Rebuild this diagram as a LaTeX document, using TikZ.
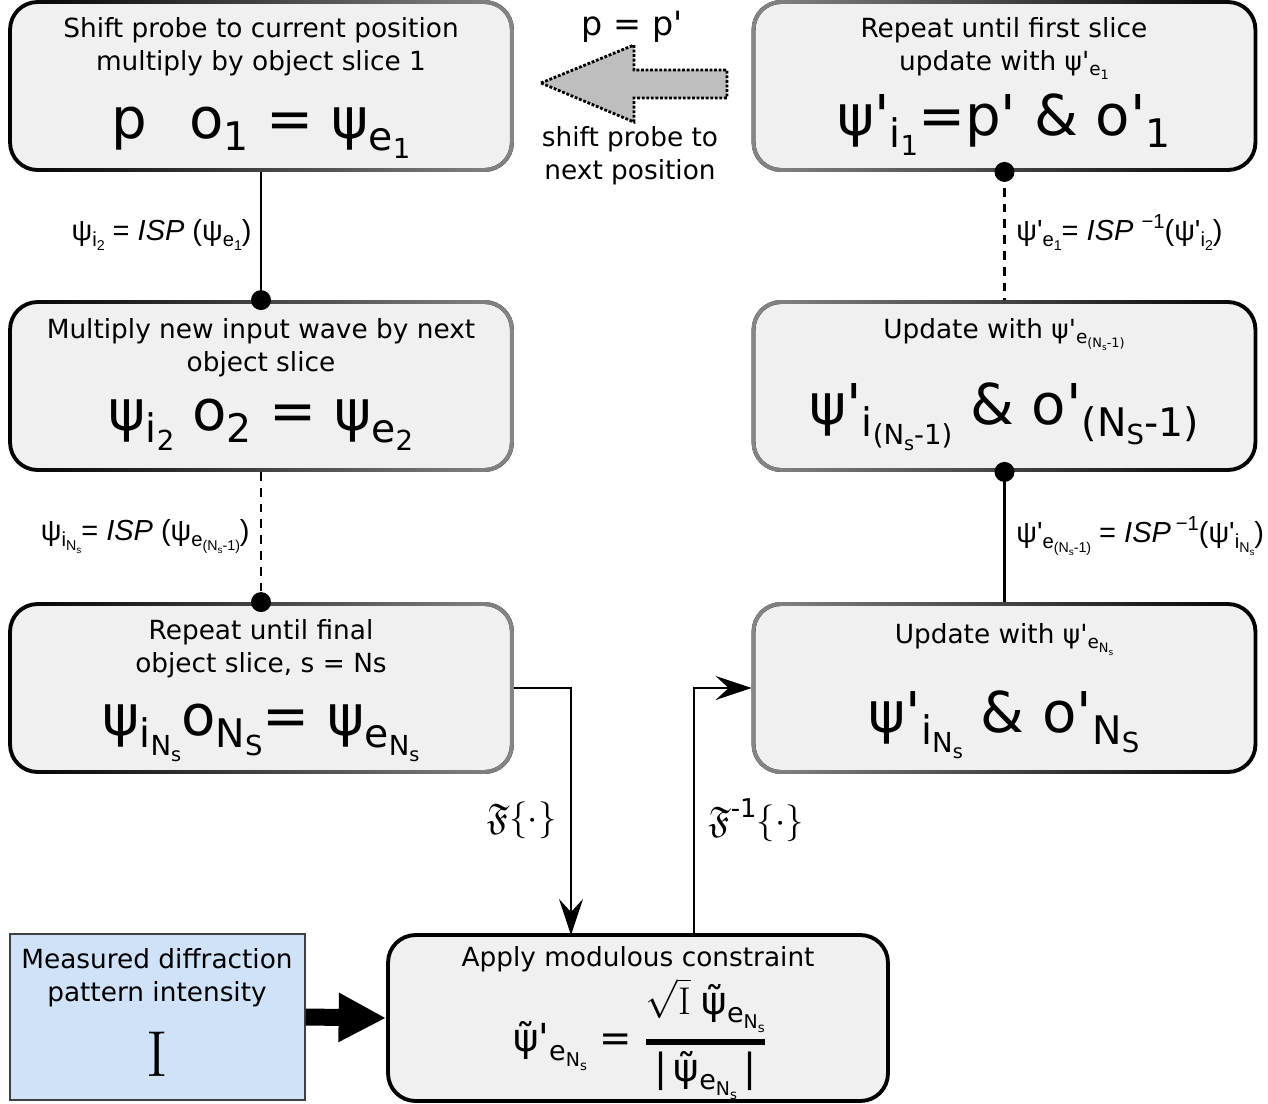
\RequirePackage{fix-cm}
\documentclass[tikz,border=0pt]{standalone}
\usepackage{amssymb}
\usepackage[no-math]{fontspec}
\setmainfont{DejaVu Sans}[Ligatures=TeXOff]
\newfontfamily\lblfont{Liberation Sans}[Ligatures=TeXOff]
\usetikzlibrary{arrows.meta, fadings}

\definecolor{boxgray}{RGB}{240,240,240}
\definecolor{midgray}{RGB}{135,135,135}
\definecolor{measblue}{RGB}{207,226,248}
\definecolor{arrowgray}{RGB}{190,190,190}

\tikzfading[name=tolight, left color=transparent!100, right color=transparent!0]
\tikzfading[name=todark, left color=transparent!0, right color=transparent!100]

\makeatletter
\newcommand\sbs[1]{\raisebox{-0.4ex}{\fontsize{\strip@pt\dimexpr 0.7\dimexpr\f@size pt\relax\relax}{0pt}\selectfont #1}}
\newcommand\sps[1]{\raisebox{0.75ex}{\fontsize{\strip@pt\dimexpr 0.7\dimexpr\f@size pt\relax\relax}{0pt}\selectfont #1}}
\makeatother
\newcommand\tpsi{ψ^^^^0303}
\newcommand\bigf{\fontsize{32}{36}\selectfont}

\begin{document}
\begin{tikzpicture}[x=0.02cm, y=-0.02cm,
  box/.style={draw=black, line width=2.2pt, rounded corners=0.55cm, fill=boxgray,
    minimum width=10.04cm, minimum height=3.36cm, inner sep=0pt},
  darkleft/.style={box, postaction={draw=midgray, line width=2.2pt, path fading=tolight}},
  darkright/.style={box, postaction={draw=midgray, line width=2.2pt, path fading=todark}},
  txt/.style={inner sep=0pt, anchor=base, align=center, font=\fontsize{15}{19}\selectfont},
  frm/.style={inner sep=0pt, anchor=base, font=\bigf},
  lbl/.style={inner sep=0pt, font=\lblfont\fontsize{16.5}{18}\selectfont},
  conn/.style={line width=1.3pt},
  dashline/.style={dash pattern=on 5pt off 4pt},
  tip/.style={-{Stealth[length=0.72cm, width=0.48cm, inset=0.26cm]}},
  dot/.style={fill=black}]
  \useasboundingbox (0,0) rectangle (1268,1103);

  % boites de gauche
  \node[darkleft] (A) at (261,86) {};
  \node[darkleft] (B) at (261,386) {};
  \node[darkleft] (C) at (261,688) {};
  % boites de droite
  \node[darkright] (R1) at (1004.5,86) {};
  \node[darkright] (R2) at (1004.5,386) {};
  \node[darkright] (R3) at (1004.5,688) {};
  % contrainte + mesure
  \node[box, minimum width=10cm, minimum height=3.32cm] (D) at (638,1018) {};
  \node[draw=black!75, line width=0.9pt, fill=measblue, minimum width=5.9cm,
    minimum height=3.32cm, inner sep=0pt] (M) at (157.5,1017) {};

  % textes A
  \node[txt] (a1) at (261,37) {Shift probe to current position};
  \node[txt] (a2) at (261,70) {multiply by object slice 1};
  \node[frm] (a3) at (261,138) {p\hspace{0.75em}o\sbs{1} = ψ\sbs{e\sbs{1}}};
  % textes B
  \node[txt] (b1) at (261,338) {Multiply new input wave by next};
  \node[txt] (b2) at (261,371) {object slice};
  \node[frm] (b3) at (261,430) {ψ\sbs{i\sbs{2}} o\sbs{2} = ψ\sbs{e\sbs{2}}};
  % textes C
  \node[txt] (c1) at (261,639) {Repeat until final};
  \node[txt] (c2) at (261,672) {object slice, s = Ns};
  \node[frm] (c3) at (261,735) {ψ\sbs{i\sbs{N\sbs{s}}}o\sbs{N\sbs{S}}= ψ\sbs{e\sbs{N\sbs{s}}}};
  % textes R1
  \node[txt] (r11) at (1004,37) {Repeat until first slice};
  \node[txt] (r12) at (1004,70) {update with ψ'\sbs{e\sbs{1}}};
  \node[frm] (r13) at (1004,135) {ψ'\sbs{i\sbs{1}}=p' \& o'\sbs{1}};
  % textes R2
  \node[txt] (r21) at (1004,338) {Update with ψ'\sbs{e\sbs{(N\sbs{s}-1)}}};
  \node[frm] (r22) at (1004,424) {ψ'\sbs{i\sbs{(N\sbs{s}-1)}} \& o'\sbs{(N\sbs{S}-1)}};
  % textes R3
  \node[txt] (r31) at (1004,643) {Update with ψ'\sbs{e\sbs{N\sbs{s}}}};
  \node[frm] (r32) at (1004,732) {ψ'\sbs{i\sbs{N\sbs{s}}} \& o'\sbs{N\sbs{S}}};
  % textes D et M
  \node[txt] (d1) at (638,966) {Apply modulous constraint};
  \node[inner sep=0pt, font=\fontsize{22}{26}\selectfont] (d2) at (640,1042)
    {\tpsi'\sbs{e\sbs{N\sbs{s}}} = $\textstyle{\hbox{\smash{$\sqrt{\mathrm{I}}$}\;\tpsi\sbs{e\sbs{N\sbs{s}}}}
      \above 3.5pt \hbox{|\,\tpsi\sbs{e\sbs{N\sbs{s}}}\,|}}$};
  \node[txt] (m1) at (157,968) {Measured diffraction};
  \node[txt] (m2) at (157,1001) {pattern intensity};
  \node[txt, font=\fontsize{37}{40}\selectfont] (m3) at (157,1076) {$\mathrm{I}$};

  % fleche du haut
  \draw[densely dotted, line width=1.6pt, fill=arrowgray]
    (541,83) -- (634,45) -- (634,70) -- (727,70) -- (727,98) -- (634,98) -- (634,122) -- cycle;
  \node[txt, font=\fontsize{19}{21}\selectfont] (pp) at (632,35) {p = p'};
  \node[txt] (sh1) at (630,146) {shift probe to};
  \node[txt] (sh2) at (630,179) {next position};

  % liaisons verticales
  \draw[conn] (A.south) -- (B.north);
  \draw[conn, dashline] (B.south) -- (C.north);
  \draw[conn, dashline] (R1.south) -- (R2.north);
  \draw[conn] (R2.south) -- (R3.north);
  \fill[dot] (B.north) circle (0.2cm);
  \fill[dot] (C.north) circle (0.2cm);
  \fill[dot] (R1.south) circle (0.2cm);
  \fill[dot] (R2.south) circle (0.2cm);

  \node[lbl, anchor=base east] (l1) at (252,240)
    {ψ\sbs{i\sbs{2}} = \textit{ISP} (ψ\sbs{e\sbs{1}})};
  \node[lbl, anchor=base east] (l2) at (250,540)
    {ψ\sbs{i\sbs{N\sbs{s}}}= \textit{ISP} (ψ\sbs{e\sbs{(N\sbs{s}-1)}})};
  \node[lbl, anchor=base west] (l3) at (1016,240)
    {ψ'\sbs{e\sbs{1}}= \textit{ISP} \sps{−1}(ψ'\sbs{i\sbs{2}})};
  \node[lbl, anchor=base west] (l4) at (1016,542)
    {ψ'\sbs{e\sbs{(N\sbs{s}-1)}} = \textit{ISP}\,\sps{−1}(ψ'\sbs{i\sbs{N\sbs{s}}})};

  % Fourier
  \coordinate (fin) at (571,935);
  \coordinate (fout) at (694,935);
  \draw[conn, tip] (C.east) -| (fin);
  \draw[conn, tip] (fout) |- (R3.west);
  \node[inner sep=0pt, anchor=east, font=\fontsize{21}{24}\selectfont] (f1) at (557,820)
    {$\mathfrak{F}\{\cdot\}$};
  \node[inner sep=0pt, anchor=west, font=\fontsize{21}{24}\selectfont] (f2) at (708,820)
    {$\mathfrak{F}$\sps{-1}$\{\cdot\}$};

  % mesure -> contrainte
  \draw[line width=0.34cm, -{Triangle[length=0.95cm, width=0.92cm]}] (M.east) -- (D.west);
\end{tikzpicture}
\end{document}
